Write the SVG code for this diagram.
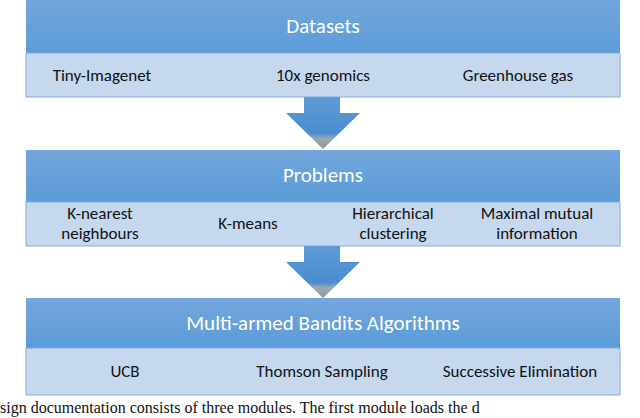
<svg xmlns="http://www.w3.org/2000/svg" width="640" height="418" viewBox="0 0 640 418">
<defs>
<linearGradient id="hg" x1="0" y1="0" x2="0" y2="1"><stop offset="0" stop-color="#73a6dc"/><stop offset="1" stop-color="#5b9bd8"/></linearGradient>
<linearGradient id="ag" x1="0" y1="0" x2="0" y2="1"><stop offset="0" stop-color="#5f9cd6"/><stop offset="0.7" stop-color="#4a8ccf"/><stop offset="0.8" stop-color="#9aa7b4"/><stop offset="1" stop-color="#8a98a6"/></linearGradient>
</defs>
<style>
.h{fill:url(#hg)}
.b{fill:#c5d8ee;stroke:#7eaee0;stroke-width:1}
.ht{font-family:Calibri,"Carlito","Open Sans","Liberation Sans",sans-serif;font-size:21px;fill:#fff;text-anchor:middle}
.t{font-family:Calibri,"Carlito","Open Sans","Liberation Sans",sans-serif;font-size:17px;fill:#111;text-anchor:middle}
.a{fill:url(#ag)}
</style>
<rect width="640" height="418" fill="#fff"/>
<g id="datasets">
<rect class="h" x="26" y="0" width="594" height="53"/>
<rect class="b" x="26" y="53" width="594" height="44"/>
<text class="ht" x="323" y="33">Datasets</text>
<text class="t" x="102" y="81">Tiny-Imagenet</text>
<text class="t" x="323" y="81">10x genomics</text>
<text class="t" x="518" y="81">Greenhouse gas</text>
</g>
<g id="problems">
<rect class="h" x="26" y="150" width="594" height="52"/>
<rect class="b" x="26" y="202" width="594" height="44"/>
<text class="ht" x="323" y="182">Problems</text>
<text class="t" x="100" y="219">K-nearest</text>
<text class="t" x="100" y="239">neighbours</text>
<text class="t" x="248" y="229">K-means</text>
<text class="t" x="393" y="219">Hierarchical</text>
<text class="t" x="393" y="239">clustering</text>
<text class="t" x="537" y="219">Maximal mutual</text>
<text class="t" x="537" y="239">information</text>
</g>
<g id="bandits">
<rect class="h" x="26" y="298" width="594" height="50"/>
<rect class="b" x="26" y="348" width="594" height="47"/>
<text class="ht" x="323" y="330">Multi-armed Bandits Algorithms</text>
<text class="t" x="125" y="377">UCB</text>
<text class="t" x="322" y="377">Thomson Sampling</text>
<text class="t" x="520" y="377">Successive Elimination</text>
</g>
<g id="connectors">
<polygon class="a" points="304,97 340,97 340,113 360,113 323,149 286,113 304,113"/>
<polygon class="a" points="304,246 340,246 340,262 360,262 323,298 286,262 304,262"/>
</g>
<text x="0" y="413" font-family="Liberation Serif,serif" font-size="16" fill="#111">sign documentation consists of three modules. The first module loads the d</text>
</svg>
